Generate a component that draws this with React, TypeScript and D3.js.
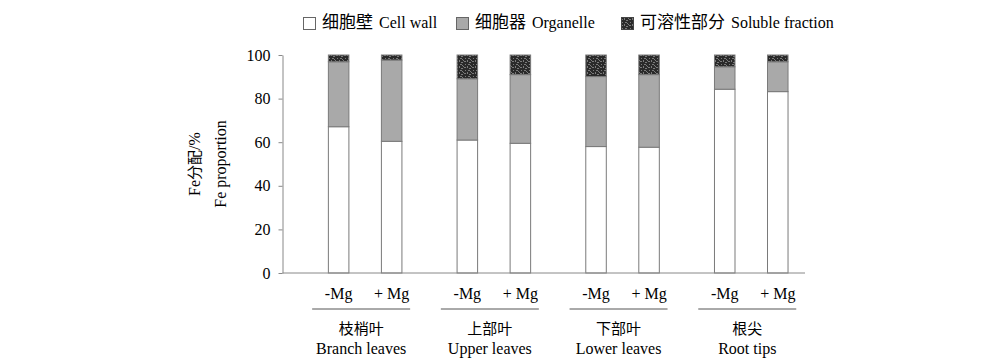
import React, { useEffect, useRef } from "react";
import * as d3 from "d3";

// tissue groups (Chinese / English) and treatments
const groupZh = ["枝梢叶", "上部叶", "下部叶", "根尖"];
const groupEn = ["Branch leaves", "Upper leaves", "Lower leaves", "Root tips"];
const treatments = ["-Mg", "+ Mg"];

// Fe proportion (%) per bar, order: group x treatment
const cellWall = [67.1, 60.4, 61.0, 59.5, 58.0, 57.7, 84.3, 83.2];
const organelle = [29.8, 37.3, 28.1, 31.5, 32.1, 33.3, 10.3, 13.7];
const soluble = [3.1, 2.3, 10.9, 9.0, 9.9, 9.0, 5.4, 3.1];

const fractionKeys = ["cellWall", "organelle", "soluble"];
const fractionLabels = [
  ["细胞壁", "Cell wall"],
  ["细胞器", "Organelle"],
  ["可溶性部分", "Soluble fraction"],
];
const yTicks = [0, 20, 40, 60, 80, 100];

const FONT = "'Times New Roman', 'Liberation Serif', 'Noto Sans CJK SC', serif";
const CJK = "'Noto Sans CJK SC', sans-serif";

function App() {
  const svgRef = useRef<SVGSVGElement>(null);

  useEffect(() => {
    const W = 1000;
    const H = 358;
    const AXIS_X = 282.5;
    const AXIS_END = 805;

    const svg = d3.select(svgRef.current).attr("width", W).attr("height", H);
    svg.selectAll("*").remove();

    // speckled pattern for the soluble fraction
    const defs = svg.append("defs");
    const pat = defs
      .append("pattern")
      .attr("id", "speckle")
      .attr("patternUnits", "userSpaceOnUse")
      .attr("width", 8)
      .attr("height", 6);
    pat.append("rect").attr("width", 8).attr("height", 6).attr("fill", "#2a2a2a");
    const specks = [
      [0, 1, 2, 1], [3, 0, 1, 2], [5, 2, 2, 1], [1, 4, 1, 1],
      [4, 4, 2, 1], [7, 0, 1, 1], [6, 5, 1, 1],
    ];
    pat
      .selectAll("rect.s")
      .data(specks)
      .join("rect")
      .attr("class", "s")
      .attr("x", (d) => d[0])
      .attr("y", (d) => d[1])
      .attr("width", (d) => d[2])
      .attr("height", (d) => d[3])
      .attr("fill", "#7a7a7a");

    const fills: Record<string, string> = {
      cellWall: "#ffffff",
      organelle: "#a9a9a9",
      soluble: "url(#speckle)",
    };

    const rows = cellWall.map((c, i) => ({
      idx: i,
      group: groupEn[Math.floor(i / 2)],
      treat: treatments[i % 2],
      cellWall: c,
      organelle: organelle[i],
      soluble: soluble[i],
    }));

    const y = d3.scaleLinear().domain([0, 100]).range([273, 55]);
    const xGroup = d3.scaleBand().domain(groupEn).range([300.8, 815.6]).padding(0);
    const xInner = d3
      .scaleBand()
      .domain(treatments)
      .range([0, xGroup.bandwidth()])
      .paddingInner(0.613)
      .paddingOuter(0.52);

    const barX = (d: any) => (xGroup(d.group) as number) + (xInner(d.treat) as number);

    const stacked = d3.stack<any>().keys(fractionKeys)(rows);

    const chart = svg.append("g");
    stacked.forEach((layer) => {
      chart
        .append("g")
        .selectAll("rect")
        .data(layer)
        .join("rect")
        .attr("x", (d: any) => barX(d.data))
        .attr("y", (d: any) => y(d[1]))
        .attr("width", xInner.bandwidth())
        .attr("height", (d: any) => y(d[0]) - y(d[1]))
        .attr("fill", fills[layer.key])
        .attr("stroke", "#7a7a7a")
        .attr("stroke-width", 1);
    });

    // y axis
    const yAxis = svg
      .append("g")
      .attr("transform", `translate(${AXIS_X},0)`)
      .call(d3.axisLeft(y).tickValues(yTicks).tickSize(4).tickSizeOuter(0).tickPadding(8));
    yAxis.select(".domain").attr("stroke", "#888");
    yAxis.selectAll(".tick line").attr("stroke", "#888");
    yAxis
      .selectAll(".tick text")
      .attr("fill", "#000")
      .attr("font-size", 16)
      .attr("font-family", FONT);

    // x axis baseline
    svg
      .append("line")
      .attr("x1", AXIS_X)
      .attr("x2", AXIS_END)
      .attr("y1", y(0))
      .attr("y2", y(0))
      .attr("stroke", "#888");

    // treatment labels
    svg
      .append("g")
      .selectAll("text")
      .data(rows)
      .join("text")
      .attr("x", (d) => barX(d) + xInner.bandwidth() / 2)
      .attr("y", 299)
      .attr("text-anchor", "middle")
      .attr("font-size", 16)
      .attr("font-family", FONT)
      .text((d) => d.treat);

    // group labels with rule
    const g = svg
      .append("g")
      .selectAll("g")
      .data(groupEn)
      .join("g")
      .attr("transform", (d) => `translate(${(xGroup(d) as number) + xGroup.bandwidth() / 2 - 4},0)`);
    g.append("line")
      .attr("x1", -49)
      .attr("x2", 49)
      .attr("y1", 309)
      .attr("y2", 309)
      .attr("stroke", "#555");
    g.append("text")
      .attr("y", 334)
      .attr("text-anchor", "middle")
      .attr("font-size", 15)
      .attr("font-family", CJK)
      .text((d, i) => groupZh[i]);
    g.append("text")
      .attr("y", 354)
      .attr("text-anchor", "middle")
      .attr("font-size", 16)
      .attr("font-family", FONT)
      .text((d) => d);

    // y axis title
    const title = svg
      .append("g")
      .attr("transform", "translate(0,164) rotate(-90)")
      .attr("text-anchor", "middle")
      .attr("font-size", 16)
      .attr("font-family", FONT);
    const t1 = title.append("text").attr("x", 0).attr("y", 200);
    t1.append("tspan").text("Fe");
    t1.append("tspan").attr("font-family", CJK).attr("font-size", 15).text("分配");
    t1.append("tspan").text("/%");
    title.append("text").attr("x", 0).attr("y", 226).text("Fe proportion");

    // legend
    const legendX = [303, 456, 621];
    const legend = svg
      .append("g")
      .selectAll("g")
      .data(fractionKeys)
      .join("g")
      .attr("transform", (d, i) => `translate(${legendX[i]},0)`);
    legend
      .append("rect")
      .attr("x", 0.5)
      .attr("y", 17.5)
      .attr("width", 12)
      .attr("height", 12)
      .attr("fill", (d) => fills[d])
      .attr("stroke", (d) => (d === "soluble" ? "#444" : "#666"));
    const lt = legend
      .append("text")
      .attr("x", 19)
      .attr("y", 28)
      .attr("font-size", 16)
      .attr("font-family", FONT);
    lt.append("tspan")
      .attr("font-family", CJK)
      .attr("font-size", 17)
      .text((d, i) => fractionLabels[i][0]);
    lt.append("tspan").attr("dx", 6).text((d, i) => fractionLabels[i][1]);
  }, []);

  return (
    <svg
      ref={svgRef}
      style={{ position: "absolute", left: 0, top: 0, background: "#fff" }}
    ></svg>
  );
}

export default App;
